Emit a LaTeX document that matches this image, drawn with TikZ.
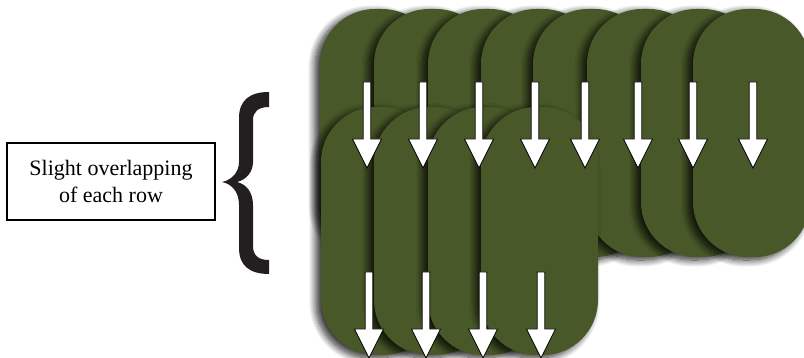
\documentclass[tikz,border=0pt]{standalone}
\usepackage{fontspec}
\setmainfont{Liberation Serif}
\usetikzlibrary{shadows.blur}
\definecolor{pillgreen}{RGB}{72,88,40}
\definecolor{bracecol}{RGB}{35,31,32}
\tikzset{
  pill/.style={fill=pillgreen, minimum width=117pt, minimum height=248pt,
    rounded corners=55pt, inner sep=0pt, outer sep=0pt, anchor=north west,
    blur shadow={shadow xshift=-5pt, shadow yshift=-3pt, shadow blur radius=7pt,
      shadow blur steps=12, shadow opacity=85}},
  arrowstyle/.style={fill=white, draw=black, line width=0.8pt, line join=miter},
  downarrow/.pic={\draw[arrowstyle] (-3.8,0) -- (-3.8,57) -- (-14.5,57) -- (0,86)
     -- (14.5,57) -- (3.8,57) -- (3.8,0) -- cycle;},
  labelbox/.style={draw=black, line width=2pt, minimum width=208pt, minimum height=77pt,
    align=center, inner sep=2pt, font=\fontsize{22}{27}\selectfont}
}
\begin{document}
\begin{tikzpicture}[x=1pt, y=-1pt]
\useasboundingbox (0,0) rectangle (804,358);
% top row of pills (right ones on top)
\foreach \i/\x in {1/320, 2/374, 3/428, 4/481, 5/533, 6/587, 7/641, 8/693}
  \node[pill] (top\i) at (\x,9) {};
% bottom row of pills
\foreach \i/\x in {1/321, 2/374, 3/428, 4/481}
  \node[pill] (bot\i) at (\x,107) {};
% arrows of the top row
\foreach \x in {367, 423, 479, 535, 585, 638, 693, 753}
  \pic at (\x,82) {downarrow};
% arrows of the bottom row
\foreach \x in {369, 426, 483, 541}
  \pic at (\x,272) {downarrow};
% label box
\node[labelbox] (label) at (111,181.5) {Slight overlapping\\of each row};
% brace
\fill[bracecol] (269,92) .. controls (250,92) and (239,100) .. (239,118)
  -- (239,162) .. controls (239,172) and (232,180) .. (222,182)
  .. controls (232,184) and (239,192) .. (239,205)
  -- (239,248) .. controls (239,266) and (250,274) .. (269,274)
  -- (269,260) .. controls (259,260) and (253,256) .. (253,246)
  -- (253,205) .. controls (253,192) and (246,184) .. (237,182)
  .. controls (246,180) and (253,172) .. (253,162)
  -- (253,120) .. controls (253,112) and (258,107) .. (269,107) -- cycle;
\end{tikzpicture}
\end{document}
